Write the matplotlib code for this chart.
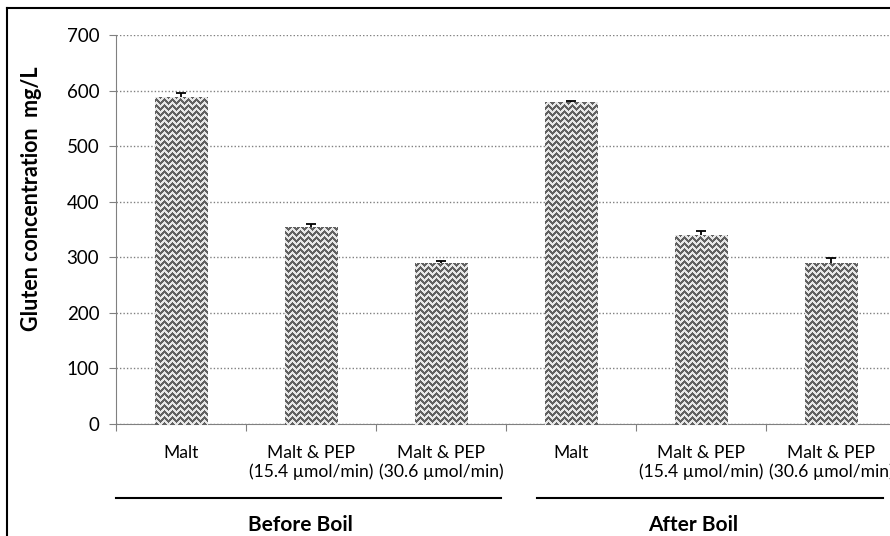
import numpy as np
import matplotlib.pyplot as plt
from matplotlib.transforms import blended_transform_factory

plt.rcParams['font.family'] = ['Lato', 'DejaVu Sans']

labels = ['Malt', 'Malt & PEP\n(15.4 µmol/min)', 'Malt & PEP\n(30.6 µmol/min)',
          'Malt', 'Malt & PEP\n(15.4 µmol/min)', 'Malt & PEP\n(30.6 µmol/min)']
values = [588, 355, 289, 579, 340, 290]
errors = [8, 4, 4, 1.5, 8, 8]
groups = ['Before Boil', 'After Boil']

fig = plt.figure(figsize=(8.9, 5.36), dpi=100)
ax = fig.add_axes([116/890, 1-424/536, 780/890, 389/536])

x = np.arange(len(values))
bars = ax.bar(x, values, width=0.4, color='none', edgecolor='none', zorder=3)
ax.errorbar(x, values, yerr=errors, fmt='none', ecolor='black', elinewidth=1.3,
            capsize=3.5, capthick=1.3, zorder=5)

# zigzag weave texture in figure pixels, clipped to each bar
rr, cc = np.mgrid[0:536, 0:890]
t = cc % 8
tri = np.where(t < 4, t, 8 - t)
tex = np.where((rr + tri) % 6 < 3, 0.38, 0.9)
for b in bars:
    im = fig.figimage(tex, xo=0, yo=0, cmap='gray', vmin=0, vmax=1, zorder=4)
    im.set_clip_path(b)

ax.set_xlim(-0.5, len(values) - 0.5)
ax.set_ylim(0, 700)
ax.set_yticks(np.arange(0, 701, 100))
ax.yaxis.grid(True, linestyle=(0, (1, 1.5)), color='#808080', linewidth=1)
ax.set_axisbelow(True)

ax.set_xticks(np.arange(-0.5, len(values), 1))
ax.set_xticklabels([])
ax.set_xticks(x, minor=True)
ax.set_xticklabels(labels, minor=True, fontsize=12.6, linespacing=1.2)
ax.tick_params(axis='x', which='minor', length=0, pad=15)
ax.tick_params(axis='x', which='major', length=5, color='#808080', direction='out')
ax.tick_params(axis='y', length=5, color='#808080', labelsize=13.5, pad=7)

for s in ['top', 'right']:
    ax.spines[s].set_visible(False)
for s in ['left', 'bottom']:
    ax.spines[s].set_color('#808080')

ax.set_ylabel('Gluten concentration  mg/L', fontsize=15.5, fontweight='bold')
ax.yaxis.set_label_coords(-0.095, 0.58)

tr = blended_transform_factory(ax.transData, ax.transAxes)
ax.plot([-0.5, 2.46], [-0.19, -0.19], color='black', lw=1.5, transform=tr, clip_on=False)
ax.plot([2.74, 5.4], [-0.19, -0.19], color='black', lw=1.5, transform=tr, clip_on=False)
ax.text(0.92, -0.26, groups[0], transform=tr, ha='center', va='center',
        fontsize=15, fontweight='bold')
ax.text(3.94, -0.26, groups[1], transform=tr, ha='center', va='center',
        fontsize=15, fontweight='bold')

# outer frame (left/top visible)
fig.add_artist(plt.Line2D([7/890, 7/890], [0, 1 - 8/536], color='black', lw=1.5))
fig.add_artist(plt.Line2D([7/890, 1], [1 - 8/536, 1 - 8/536], color='black', lw=1.5))

fig.savefig('out.png', dpi=100)
